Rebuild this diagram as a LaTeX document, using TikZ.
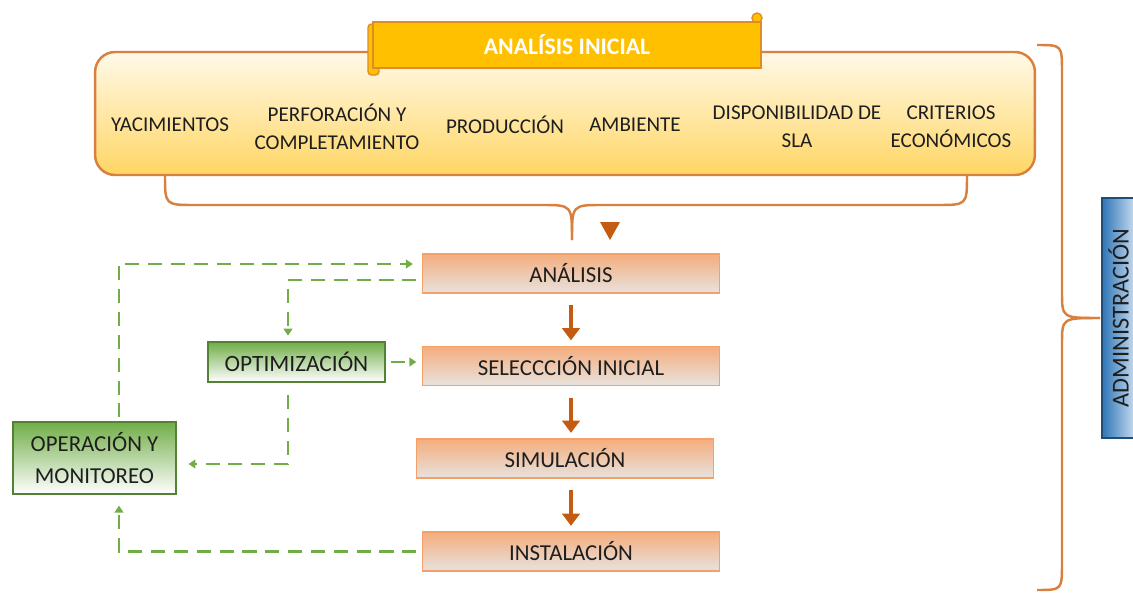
\documentclass[tikz,border=0pt]{standalone}
\usepackage{fontspec}
\setmainfont{Carlito}
\usetikzlibrary{arrows.meta,positioning}
\definecolor{ScrollGold}{RGB}{255,192,0}
\definecolor{ScrollEdge}{RGB}{222,140,40}
\definecolor{PanelTop}{RGB}{255,249,232}
\definecolor{PanelBottom}{RGB}{255,214,100}
\definecolor{BraceOrange}{RGB}{217,128,63}
\definecolor{StageTop}{RGB}{244,173,125}
\definecolor{StageBottom}{RGB}{232,226,222}
\definecolor{StageEdge}{RGB}{244,160,105}
\definecolor{StepArrow}{RGB}{197,90,17}
\definecolor{LoopGreen}{RGB}{112,173,71}
\definecolor{LoopEdge}{RGB}{84,130,53}
\definecolor{AdminBlue}{RGB}{46,117,182}
\definecolor{AdminLight}{RGB}{200,220,240}
\definecolor{AdminEdge}{RGB}{31,78,121}
\definecolor{TextGrey}{RGB}{30,30,30}

\begin{document}
\begin{tikzpicture}[x=0.02cm, y=-0.02cm,
    stage/.style={draw=StageEdge, line width=1pt, top color=StageTop, bottom color=StageBottom,
      minimum width=5.94cm, minimum height=0.78cm, text=TextGrey, inner sep=1pt,
      font=\fontsize{13}{14}\selectfont},
    loopbox/.style={draw=LoopEdge, line width=1.2pt, top color=LoopGreen, bottom color=white,
      align=center, text=TextGrey, inner sep=1pt, font=\fontsize{13}{18}\selectfont},
    topic/.style={align=center, text=TextGrey, font=\fontsize{12}{16}\selectfont},
    flow/.style={StepArrow, line width=2.4pt, -{Triangle[length=7pt,width=10pt]},
      shorten <=6.5pt, shorten >=3pt},
    fback/.style={LoopGreen, line width=1.7pt, dash pattern=on 8pt off 5pt,
      -{Triangle[length=4pt,width=5pt]}},
    bracket/.style={BraceOrange, line width=1.4pt}]
    \useasboundingbox (0,0) rectangle (1133,592);

    % Top panel with the initial topics
    \node[draw=BraceOrange, line width=1.4pt, rounded corners=0.4cm, top color=PanelTop,
      bottom color=PanelBottom, minimum width=18.8cm, minimum height=2.46cm] (panel) at (565,113.5) {};

    % Scroll banner
    \draw[ScrollEdge, fill=ScrollGold, line width=0.8pt, rounded corners=2pt] (368,24) rectangle (379,75);
    \draw[ScrollEdge, fill=ScrollGold, line width=0.8pt] (757,18) circle (5);
    \node[draw=ScrollEdge, fill=ScrollGold, line width=0.8pt, minimum width=7.76cm, minimum height=0.92cm,
      text=white, font=\fontsize{13.5}{15}\selectfont\bfseries] (title) at (567,45) {ANALÍSIS INICIAL};

    \node[topic] (yac) at (170,125) {YACIMIENTOS};
    \node[topic] (perf) at (337,127) {PERFORACIÓN Y\\COMPLETAMIENTO};
    \node[topic] (prod) at (505,125) {PRODUCCIÓN};
    \node[topic] (amb) at (635,125) {AMBIENTE};
    \node[topic] (disp) at (797,127) {DISPONIBILIDAD DE\\SLA};
    \node[topic] (crit) at (951,127) {CRITERIOS\\ECONÓMICOS};

    % Brace under the panel
    \draw[bracket] (165,175) .. controls (165,205) .. (195,205) -- (542,205)
      .. controls (572,205) .. (572,240);
    \draw[bracket] (967,175) .. controls (967,205) .. (937,205) -- (602,205)
      .. controls (572,205) .. (572,240);
    \fill[StepArrow] (600,222) -- (620,222) -- (610,240) -- cycle;

    % Main sequence
    \node[stage] (ana) at (571,273.5) {ANÁLISIS};
    \node[stage] (sel) at (571,366) {SELECCCIÓN INICIAL};
    \node[stage] (sim) at (565,458.5) {SIMULACIÓN};
    \node[stage] (ins) at (571,551.5) {INSTALACIÓN};

    \draw[flow] (ana.south) -- (sel.north);
    \draw[flow] (sel.south) -- (sel.south |- sim.north);
    \draw[flow] (sel.south |- sim.south) -- (ins.north);

    % Feedback loop
    \node[loopbox, minimum width=3.54cm, minimum height=0.8cm, font=\fontsize{13.3}{15}\selectfont] (opt) at (296.5,362) {OPTIMIZACIÓN};
    \node[loopbox, minimum width=3.26cm, minimum height=1.44cm] (opm) at (94.5,458) {OPERACIÓN Y\\MONITOREO};

    \draw[fback, shorten <=2pt, shorten >=5pt] ([xshift=0.49cm]opm.north) |- ([yshift=0.19cm]ana.west);
    \draw[fback, shorten <=3pt, shorten >=3pt] ([yshift=-0.13cm]ana.west) -| ([xshift=-0.17cm]opt.north);
    \draw[fback, shorten <=3pt, shorten >=3pt] (opt.east) -- (opt.east -| sel.west);
    \draw[fback, shorten <=7pt, shorten >=6.5pt] ([xshift=-0.17cm]opt.south) |- ([yshift=-0.12cm]opm.east);
    \draw[fback, shorten <=3pt, shorten >=6pt] (ins.west) -| ([xshift=0.49cm]opm.south);

    % Administration brace
    \draw[bracket] (1037,45) .. controls (1062,45) .. (1062,72) -- (1062,292)
      .. controls (1062,318) .. (1100,318);
    \draw[bracket] (1037,590) .. controls (1062,590) .. (1062,563) -- (1062,344)
      .. controls (1062,318) .. (1100,318);
    \node[draw=AdminEdge, line width=1pt, left color=AdminBlue, right color=AdminLight,
      minimum width=4.8cm, minimum height=0.66cm, rotate=90, text=TextGrey, inner sep=1pt,
      font=\fontsize{13.8}{15}\selectfont] (adm) at (1118.5,318) {ADMINISTRACIÓN};
\end{tikzpicture}
\end{document}
